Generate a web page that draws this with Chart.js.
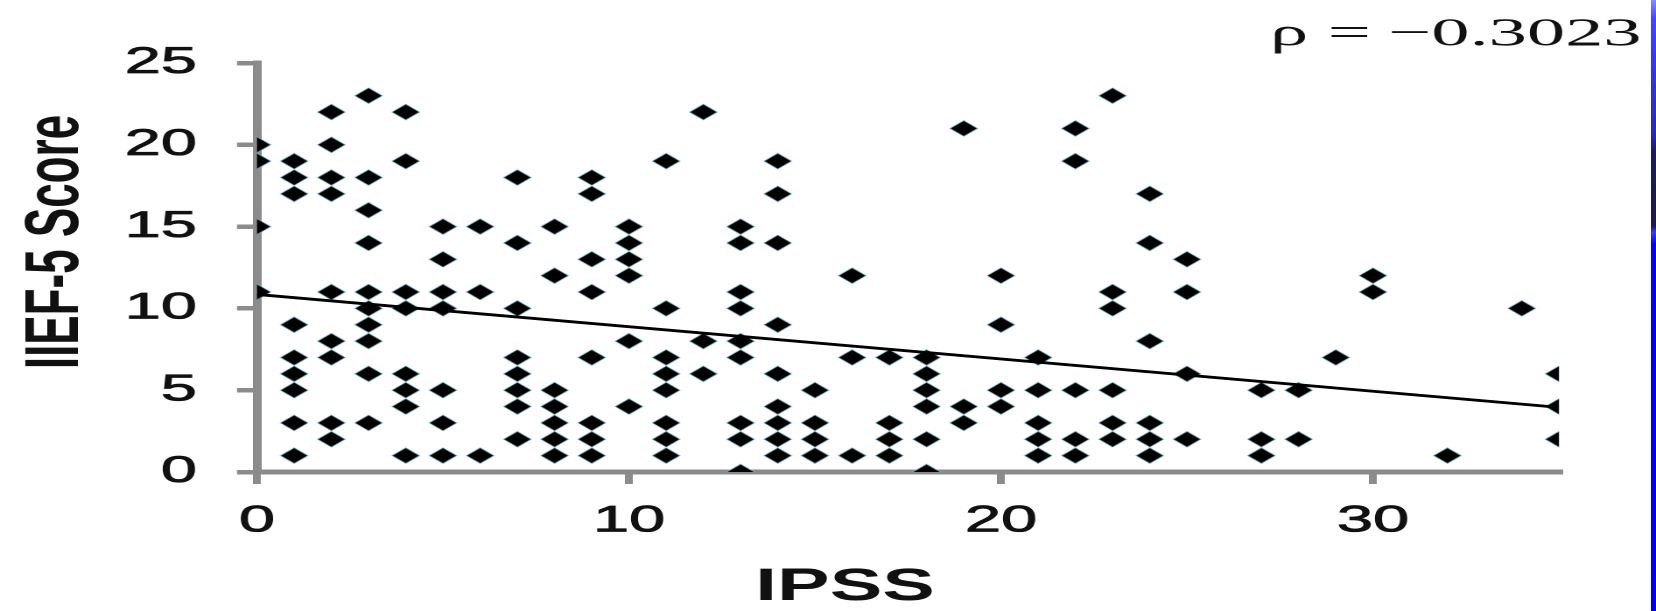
<!DOCTYPE html>
<html>
<head>
<meta charset="utf-8">
<script src="https://cdn.jsdelivr.net/npm/chart.js@4/dist/chart.umd.min.js"></script>
<style>
  html, body { margin: 0; padding: 0; background: #fff; width: 1656px; height: 611px; overflow: hidden; }
  /* the figure is drawn at its native width and widened to fill the page */
  #frame { position: absolute; left: 0; top: 0; width: 946px; height: 611px;
           transform: scaleX(1.7505); transform-origin: 0 0; }
  #edge { position: absolute; right: 0; top: 0; width: 5px; height: 611px;
          background: linear-gradient(to bottom, #8a8aff 0%, #4646ff 3%, #3a3af0 8%, #2a2ab0 22%,
                                      #1c1c58 25%, #1a1a50 37%, #3c3cf0 38%, #0404ee 40%, #0000ee 100%); }
</style>
</head>
<body>
<div id="frame"><canvas id="chart"></canvas></div>
<div id="edge"></div>
<script>
// IPSS score (x) and IIEF-5 score (y) for each patient, listed column by column
const ipss = [
  0, 0, 0, 0,
  1, 1, 1, 1, 1, 1, 1, 1, 1,
  2, 2, 2, 2, 2, 2, 2, 2, 2,
  3, 3, 3, 3, 3, 3, 3, 3, 3, 3,
  4, 4, 4, 4, 4, 4, 4, 4,
  5, 5, 5, 5, 5, 5, 5,
  6, 6, 6,
  7, 7, 7, 7, 7, 7, 7, 7,
  8, 8, 8, 8, 8, 8, 8,
  9, 9, 9, 9, 9, 9, 9, 9,
  10, 10, 10, 10, 10, 10,
  11, 11, 11, 11, 11, 11, 11, 11,
  12, 12, 12,
  13, 13, 13, 13, 13, 13, 13, 13, 13,
  14, 14, 14, 14, 14, 14, 14, 14, 14,
  15, 15, 15, 15,
  16, 16, 16,
  17, 17, 17, 17,
  18, 18, 18, 18, 18, 18,
  19, 19, 19,
  20, 20, 20, 20,
  21, 21, 21, 21, 21,
  22, 22, 22, 22, 22,
  23, 23, 23, 23, 23, 23,
  24, 24, 24, 24, 24, 24,
  25, 25, 25, 25,
  27, 27, 27,
  28, 28,
  29,
  30, 30,
  32,
  34,
  35, 35, 35
];
const iief = [
  20, 19, 15, 11,
  19, 18, 17, 9, 7, 6, 5, 3, 1,
  22, 20, 18, 17, 11, 8, 7, 3, 2,
  23, 18, 16, 14, 11, 10, 9, 8, 6, 3,
  22, 19, 11, 10, 6, 5, 4, 1,
  15, 13, 11, 10, 5, 3, 1,
  15, 11, 1,
  18, 14, 10, 7, 6, 5, 4, 2,
  15, 12, 5, 4, 3, 2, 1,
  18, 17, 13, 11, 7, 3, 2, 1,
  15, 14, 13, 12, 8, 4,
  19, 10, 7, 6, 5, 3, 2, 1,
  22, 8, 6,
  15, 14, 11, 10, 8, 7, 3, 2, 0,
  19, 17, 14, 9, 6, 4, 3, 2, 1,
  5, 3, 2, 1,
  12, 7, 1,
  7, 3, 2, 1,
  7, 6, 5, 4, 2, 0,
  21, 4, 3,
  12, 9, 5, 4,
  7, 5, 3, 2, 1,
  21, 19, 5, 2, 1,
  23, 11, 10, 5, 3, 2,
  17, 14, 8, 3, 2, 1,
  13, 11, 6, 2,
  5, 2, 1,
  5, 2,
  7,
  12, 11,
  1,
  10,
  6, 4, 2
];

// fitted regression line, end points
const trendX = [0, 35];
const trendY = [10.85, 3.95];

// axis ticks and labels
const xTicks = [0, 10, 20, 30];
const yTicks = [0, 5, 10, 15, 20, 25];
const xTitle = 'IPSS';
const yTitle = 'IIEF-5 Score';
const rhoText = 'ρ = −0.3023';

const axisGray = '#8b8b8b';
const sans = '"Liberation Sans", Arial, Helvetica, sans-serif';

const titlesPlugin = {
  id: 'titles',
  afterDraw(chart) {
    const ctx = chart.ctx;
    ctx.save();
    ctx.fillStyle = '#111';

    ctx.font = 'bold 44px ' + sans;
    ctx.textAlign = 'center';
    ctx.textBaseline = 'alphabetic';
    ctx.save();
    ctx.translate(44.5, 242);
    ctx.rotate(-Math.PI / 2);
    ctx.fillText(yTitle, 0, 0);
    ctx.restore();

    ctx.font = 'bold 45px ' + sans;
    ctx.fillText(xTitle, 482.7, 600);

    // correlation note, typeset piece by piece in a slightly wide serif
    ctx.font = '39px "Liberation Serif", "Times New Roman", serif';
    ctx.textAlign = 'left';
    const parts = rhoText.split(' ');
    const starts = [725.5, 758.5, 793];
    parts.forEach((p, i) => {
      ctx.save();
      ctx.translate(starts[i], 45);
      ctx.scale(1.12, 1);
      ctx.fillText(p, 0, 0);
      ctx.restore();
    });
    ctx.restore();
  }
};

const tickFont = { family: sans, size: 37 };

new Chart(document.getElementById('chart'), {
  data: {
    datasets: [
      {
        type: 'line',
        data: trendX.map((x, i) => ({ x, y: trendY[i] })),
        borderColor: '#000',
        borderWidth: 2.9,
        pointRadius: 0,
        fill: false
      },
      {
        type: 'scatter',
        data: ipss.map((x, i) => ({ x, y: iief[i] })),
        pointStyle: 'rectRot',
        pointRadius: 7.9,
        backgroundColor: '#000',
        borderColor: 'rgba(120, 200, 215, 0.55)',
        borderWidth: 1
      }
    ]
  },
  options: {
    responsive: true,
    maintainAspectRatio: false,
    animation: false,
    devicePixelRatio: 2,
    layout: { padding: { left: 0, top: 63, right: 55.4, bottom: 0 } },
    plugins: { legend: { display: false }, tooltip: { enabled: false } },
    scales: {
      x: {
        type: 'linear',
        min: 0,
        max: 35,
        afterBuildTicks: s => { s.ticks = xTicks.map(v => ({ value: v })); },
        afterFit: s => { s.height = 139; },
        border: { display: true, color: axisGray, width: 5 },
        grid: { drawOnChartArea: false, drawTicks: true, tickLength: 12, color: axisGray, lineWidth: 4.5 },
        ticks: { color: '#111', font: tickFont, padding: 15, maxRotation: 0, autoSkip: false,
                 textStrokeColor: '#111', textStrokeWidth: 0.8 }
      },
      y: {
        type: 'linear',
        min: 0,
        max: 25,
        afterBuildTicks: s => { s.ticks = yTicks.map(v => ({ value: v })); },
        afterFit: s => { s.width = 146.8; },
        border: { display: true, color: axisGray, width: 5 },
        grid: { drawOnChartArea: false, drawTicks: true, tickLength: 11.4, color: axisGray, lineWidth: 4.5 },
        ticks: { color: '#111', font: tickFont, padding: 23,
                 textStrokeColor: '#111', textStrokeWidth: 0.8 }
      }
    }
  },
  plugins: [titlesPlugin]
});
</script>
</body>
</html>
